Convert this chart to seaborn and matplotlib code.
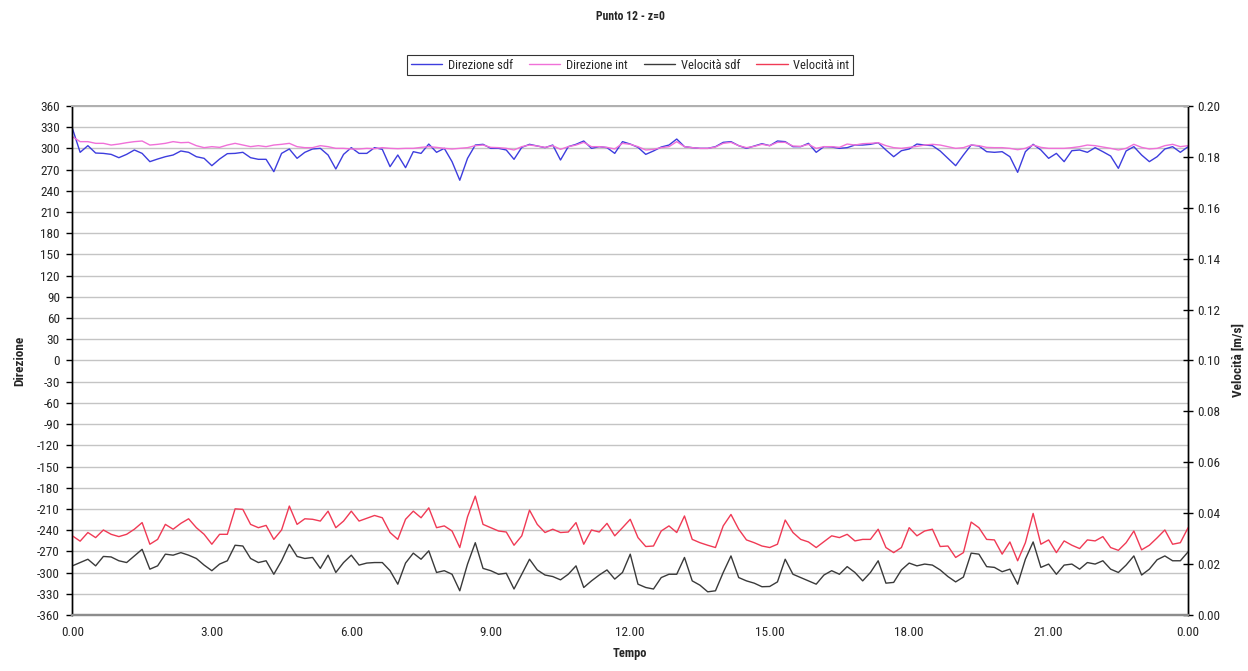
import numpy as np
import pandas as pd
import matplotlib
matplotlib.use("Agg")
import matplotlib.pyplot as plt
from matplotlib import font_manager
from matplotlib.ticker import MultipleLocator, FormatStrFormatter, FixedLocator, FixedFormatter
import seaborn as sns

# Series sampled every 10 minutes over one day (0:00 -> 24:00)
direzione_sdf = [
    328.4, 294.5, 303.9, 293.5, 293.0, 291.6, 286.9, 291.6, 297.8, 293.0,
    281.3, 285.0, 288.3, 290.7, 296.4, 294.5, 288.3, 286.0, 275.6, 285.0,
    292.6, 293.0, 294.5, 286.9, 284.6, 284.6, 267.1, 293.0, 299.2, 286.0,
    294.5, 299.2, 300.1, 290.7, 270.9, 291.6, 301.1, 293.0, 293.0, 301.1,
    298.7, 274.2, 290.7, 272.8, 295.4, 293.0, 306.2, 294.5, 300.1, 281.3,
    255.0, 286.0, 304.8, 305.8, 300.1, 300.1, 297.8, 284.6, 301.5, 305.8,
    303.4, 301.1, 304.8, 283.6, 302.5, 305.8, 310.5, 300.1, 302.5, 301.1,
    293.0, 309.6, 306.2, 301.5, 291.6, 296.4, 302.0, 304.8, 313.3, 302.5,
    301.1, 300.1, 300.1, 302.5, 308.6, 309.6, 303.9, 300.1, 303.4, 306.7,
    303.9, 310.5, 309.6, 302.5, 302.5, 307.2, 294.5, 302.5, 302.0, 300.1,
    301.1, 304.8, 304.8, 305.8, 308.1, 297.8, 288.3, 296.8, 299.2, 306.2,
    304.8, 303.9, 296.4, 286.0, 275.6, 290.7, 304.8, 303.4, 295.4, 294.5,
    295.4, 288.3, 266.2, 295.4, 305.8, 297.8, 286.0, 293.0, 281.3, 296.8,
    297.8, 294.5, 301.1, 295.4, 289.3, 271.8, 296.4, 302.5, 290.7, 281.3,
    288.3, 299.2, 302.5, 294.5, 302.5,
]

direzione_int = [
    316.6, 309.6, 309.6, 307.2, 307.2, 304.8, 306.2, 308.1, 309.6, 310.5,
    304.8, 305.8, 307.2, 309.6, 308.1, 308.6, 303.9, 301.1, 302.5, 301.5,
    304.8, 307.2, 304.8, 302.5, 303.9, 302.5, 304.8, 305.8, 307.2, 302.5,
    301.1, 301.1, 303.9, 302.5, 300.1, 300.1, 299.2, 299.2, 300.1, 299.6,
    301.1, 300.1, 299.6, 300.1, 300.1, 301.5, 302.5, 301.5, 300.1, 299.2,
    300.1, 301.1, 303.9, 304.8, 301.5, 301.1, 300.1, 297.8, 302.5, 304.8,
    303.4, 301.5, 303.9, 298.7, 302.5, 304.8, 308.6, 302.5, 302.5, 301.5,
    299.2, 307.2, 305.8, 302.5, 297.8, 298.7, 301.1, 302.5, 309.6, 302.5,
    301.1, 300.1, 300.1, 302.0, 307.2, 308.6, 303.9, 301.1, 302.9, 305.8,
    303.9, 308.6, 308.6, 303.4, 302.9, 305.8, 300.1, 302.5, 302.5, 301.5,
    306.2, 304.8, 306.7, 307.2, 308.1, 303.9, 301.1, 300.1, 301.5, 302.9,
    304.8, 305.8, 304.8, 302.5, 300.1, 301.1, 304.8, 303.9, 301.5, 301.1,
    301.1, 300.1, 298.2, 300.1, 304.8, 301.5, 300.1, 300.1, 300.1, 301.1,
    302.5, 304.8, 303.9, 302.0, 300.1, 297.8, 300.1, 305.8, 301.5, 299.2,
    300.1, 303.9, 305.8, 302.5, 303.9,
]

velocita_sdf = [
    0.0193, 0.0206, 0.0219, 0.0193, 0.0230, 0.0228, 0.0213, 0.0206, 0.0232, 0.0258,
    0.0180, 0.0193, 0.0239, 0.0235, 0.0245, 0.0235, 0.0222, 0.0196, 0.0174, 0.0200,
    0.0213, 0.0274, 0.0271, 0.0222, 0.0206, 0.0213, 0.0160, 0.0213, 0.0278, 0.0230,
    0.0222, 0.0226, 0.0183, 0.0235, 0.0167, 0.0206, 0.0235, 0.0196, 0.0204, 0.0206,
    0.0206, 0.0174, 0.0121, 0.0204, 0.0243, 0.0219, 0.0252, 0.0167, 0.0174, 0.0160,
    0.0095, 0.0200, 0.0284, 0.0183, 0.0174, 0.0160, 0.0164, 0.0102, 0.0160, 0.0219,
    0.0177, 0.0157, 0.0151, 0.0138, 0.0160, 0.0193, 0.0108, 0.0134, 0.0157, 0.0177,
    0.0141, 0.0167, 0.0239, 0.0121, 0.0108, 0.0102, 0.0147, 0.0160, 0.0160, 0.0226,
    0.0134, 0.0117, 0.0091, 0.0095, 0.0167, 0.0232, 0.0147, 0.0134, 0.0125, 0.0111,
    0.0112, 0.0130, 0.0219, 0.0160, 0.0147, 0.0134, 0.0121, 0.0157, 0.0174, 0.0160,
    0.0190, 0.0167, 0.0134, 0.0167, 0.0213, 0.0125, 0.0128, 0.0177, 0.0204, 0.0193,
    0.0200, 0.0196, 0.0177, 0.0151, 0.0130, 0.0149, 0.0243, 0.0239, 0.0190, 0.0187,
    0.0170, 0.0180, 0.0121, 0.0219, 0.0287, 0.0187, 0.0200, 0.0160, 0.0196, 0.0200,
    0.0180, 0.0206, 0.0200, 0.0213, 0.0180, 0.0167, 0.0196, 0.0232, 0.0157, 0.0180,
    0.0217, 0.0232, 0.0213, 0.0213, 0.0248,
]

velocita_int = [
    0.0311, 0.0290, 0.0324, 0.0304, 0.0334, 0.0317, 0.0308, 0.0317, 0.0337, 0.0363,
    0.0278, 0.0297, 0.0356, 0.0337, 0.0360, 0.0378, 0.0343, 0.0317, 0.0278, 0.0317,
    0.0317, 0.0417, 0.0415, 0.0356, 0.0343, 0.0352, 0.0297, 0.0334, 0.0428, 0.0356,
    0.0378, 0.0376, 0.0369, 0.0408, 0.0343, 0.0369, 0.0408, 0.0369, 0.0380, 0.0391,
    0.0382, 0.0324, 0.0297, 0.0376, 0.0408, 0.0382, 0.0421, 0.0343, 0.0350, 0.0330,
    0.0265, 0.0386, 0.0467, 0.0356, 0.0343, 0.0330, 0.0326, 0.0274, 0.0311, 0.0412,
    0.0356, 0.0324, 0.0337, 0.0324, 0.0326, 0.0363, 0.0278, 0.0334, 0.0326, 0.0360,
    0.0311, 0.0343, 0.0376, 0.0304, 0.0269, 0.0271, 0.0330, 0.0350, 0.0324, 0.0389,
    0.0297, 0.0284, 0.0274, 0.0265, 0.0350, 0.0395, 0.0337, 0.0295, 0.0284, 0.0271,
    0.0265, 0.0278, 0.0373, 0.0324, 0.0297, 0.0287, 0.0265, 0.0288, 0.0311, 0.0304,
    0.0317, 0.0291, 0.0297, 0.0297, 0.0337, 0.0265, 0.0245, 0.0265, 0.0343, 0.0311,
    0.0330, 0.0337, 0.0269, 0.0271, 0.0226, 0.0245, 0.0365, 0.0343, 0.0297, 0.0295,
    0.0239, 0.0287, 0.0213, 0.0284, 0.0399, 0.0278, 0.0295, 0.0245, 0.0291, 0.0274,
    0.0261, 0.0295, 0.0291, 0.0308, 0.0265, 0.0254, 0.0284, 0.0330, 0.0256, 0.0274,
    0.0303, 0.0334, 0.0278, 0.0284, 0.0343,
]

x_ticks = [0, 3, 6, 9, 12, 15, 18, 21, 24]
x_labels = ["0.00", "3.00", "6.00", "9.00", "12.00", "15.00", "18.00", "21.00", "0.00"]

series_labels = ["Direzione sdf", "Direzione int", "Velocità sdf", "Velocità int"]
series_colors = ["#3d3dde", "#f070d8", "#3a3a3a", "#f03a55"]


def frame(values):
    return pd.DataFrame({"ore": np.linspace(0, 24, len(values)), "valore": values})


# narrow sans-serif for all chart text
available = {f.name for f in font_manager.fontManager.ttflist}
narrow = next((n for n in ["Roboto Condensed", "Asap Condensed", "Archivo Narrow", "Barlow Semi Condensed"]
               if n in available), "DejaVu Sans")

sns.set_theme(style="white")
plt.rcParams["font.family"] = [narrow, "DejaVu Sans"]
plt.rcParams["font.size"] = 9

fig = plt.figure(figsize=(12.48, 6.71), dpi=100)
ax = fig.add_axes([0.058, 0.0835, 0.894, 0.7585])
ax2 = ax.twinx()

sns.lineplot(data=frame(direzione_sdf), x="ore", y="valore", ax=ax,
             color=series_colors[0], lw=1.0, label=series_labels[0], legend=False)
sns.lineplot(data=frame(direzione_int), x="ore", y="valore", ax=ax,
             color=series_colors[1], lw=1.0, label=series_labels[1], legend=False)
sns.lineplot(data=frame(velocita_sdf), x="ore", y="valore", ax=ax2,
             color=series_colors[2], lw=1.0, label=series_labels[2], legend=False)
sns.lineplot(data=frame(velocita_int), x="ore", y="valore", ax=ax2,
             color=series_colors[3], lw=1.0, label=series_labels[3], legend=False)

# left axis: direction
ax.set_xlim(0, 24)
ax.set_ylim(-360, 360)
ax.yaxis.set_major_locator(MultipleLocator(30))
ax.yaxis.set_major_formatter(FormatStrFormatter("%d"))
ax.grid(axis="y", color="#c4c4c4", lw=1.0)
ax.grid(axis="x", visible=False)
ax.xaxis.set_major_locator(FixedLocator(x_ticks))
ax.xaxis.set_major_formatter(FixedFormatter(x_labels))
ax.tick_params(axis="y", direction="out", length=4, width=1, color="black", pad=5, labelsize=9.5)
ax.tick_params(axis="x", direction="inout", length=6, width=1, color="black", pad=5, labelsize=9.5)
ax.set_xlabel("Tempo", fontweight="bold", fontsize=9, labelpad=6)
ax.set_ylabel("Direzione", fontweight="bold", fontsize=9.5, labelpad=8)

# right axis: speed
ax2.set_ylim(0, 0.20)
ax2.yaxis.set_major_locator(MultipleLocator(0.02))
ax2.yaxis.set_major_formatter(FormatStrFormatter("%.2f"))
ax2.tick_params(axis="y", direction="inout", length=7, width=1, color="black", pad=3, labelsize=9.5)
ax2.set_ylabel("Velocità [m/s]", fontweight="bold", fontsize=9.5, labelpad=8)
ax2.grid(False)

for a in (ax, ax2):
    a.spines["left"].set_color("black")
    a.spines["right"].set_color("black")
    a.spines["top"].set_color("#b0b0b0")
    a.spines["bottom"].set_color("#8c8c8c")
    a.spines["bottom"].set_linewidth(1.6)
    a.spines["left"].set_linewidth(1.0)
    a.spines["right"].set_linewidth(1.0)
    a.spines["top"].set_linewidth(1.4)
ax.set_facecolor("white")

fig.suptitle("Punto 12 - z=0", x=0.505, y=0.985, fontsize=8.5, fontweight="bold")

handles = ax.get_lines()[:2] + ax2.get_lines()[:2]
leg = fig.legend(handles, series_labels, loc="center", bbox_to_anchor=(0.505, 0.903),
                 ncol=4, frameon=True, fancybox=False, edgecolor="black", fontsize=9,
                 handlelength=2.5, handletextpad=0.45, columnspacing=1.3,
                 borderpad=0.3)
leg.get_frame().set_linewidth(0.8)

fig.savefig("out.png", dpi=100, facecolor="white")
